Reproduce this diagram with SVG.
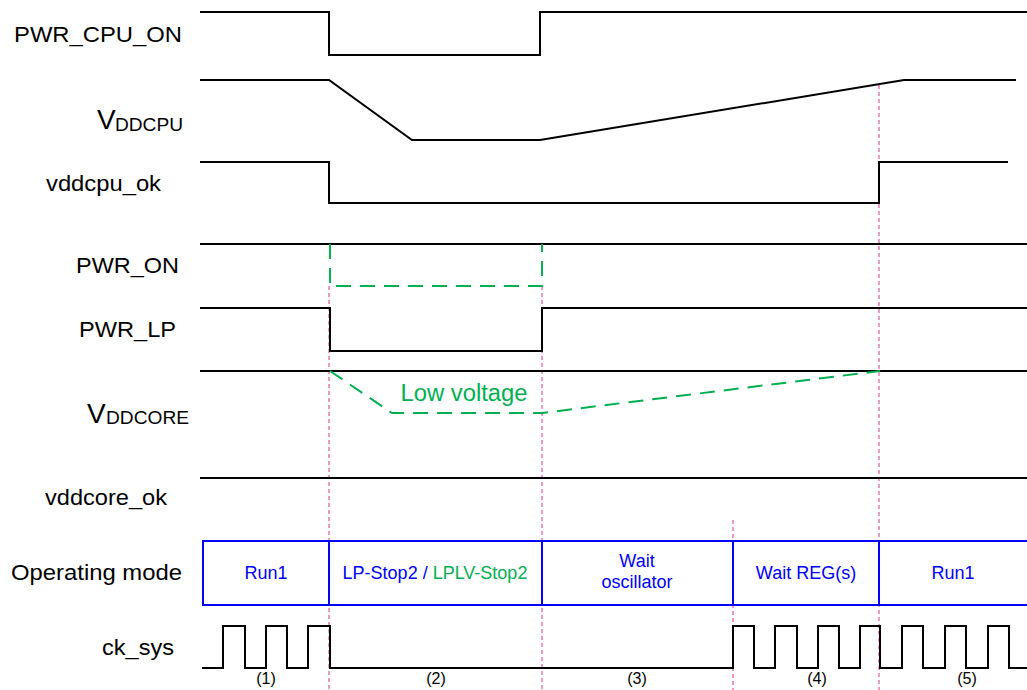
<svg xmlns="http://www.w3.org/2000/svg" width="1027" height="690" viewBox="0 0 1027 690">
<style>
.lbl{font-family:"Liberation Sans",Arial,sans-serif;font-size:22px;fill:#000}
.sub{font-family:"Liberation Sans",Arial,sans-serif;font-size:18px;fill:#000}
.big{font-family:"Liberation Sans",Arial,sans-serif;font-size:28px;fill:#000}
.mode{font-family:"Liberation Sans",Arial,sans-serif;font-size:18px;fill:#0000ff;text-anchor:middle}
.num{font-family:"Liberation Sans",Arial,sans-serif;font-size:16px;fill:#000;text-anchor:middle}
.sig{fill:none;stroke:#000;stroke-width:2;stroke-linejoin:miter}
.grn{fill:none;stroke:#00b050;stroke-width:2;stroke-dasharray:15,9}
.mag{fill:none;stroke:#e8559f;stroke-width:1.2;stroke-dasharray:4,3}
.box{fill:none;stroke:#0000ff;stroke-width:2}
</style>
<rect width="1027" height="690" fill="#fff"/>
<g id="guides">
<line class="mag" x1="329" y1="286" x2="329" y2="690"/>
<line class="mag" x1="542" y1="286" x2="542" y2="690"/>
<line class="mag" x1="733" y1="520" x2="733" y2="690"/>
<line class="mag" x1="879" y1="85" x2="879" y2="690"/>
</g>
<g id="labels">
<text class="lbl" x="14" y="42" textLength="168" lengthAdjust="spacingAndGlyphs">PWR_CPU_ON</text>
<text class="big" x="97" y="129">V</text><text class="sub" x="115" y="131" textLength="68" lengthAdjust="spacingAndGlyphs">DDCPU</text>
<text class="lbl" x="46" y="191" textLength="115" lengthAdjust="spacingAndGlyphs">vddcpu_ok</text>
<text class="lbl" x="76" y="273" textLength="103" lengthAdjust="spacingAndGlyphs">PWR_ON</text>
<text class="lbl" x="79" y="337" textLength="97" lengthAdjust="spacingAndGlyphs">PWR_LP</text>
<text class="big" x="87" y="423">V</text><text class="sub" x="106" y="424" textLength="83" lengthAdjust="spacingAndGlyphs">DDCORE</text>
<text class="lbl" x="45" y="505" textLength="122" lengthAdjust="spacingAndGlyphs">vddcore_ok</text>
<text class="lbl" x="11" y="580" textLength="171" lengthAdjust="spacingAndGlyphs">Operating mode</text>
<text class="lbl" x="102" y="655" textLength="72" lengthAdjust="spacingAndGlyphs">ck_sys</text>
</g>
<g id="connectors">
<polyline id="pwr_cpu_on" class="sig" points="200,12 329,12 329,55 540,55 540,12 1027,12"/>
<polyline id="vddcpu" class="sig" points="200,80 329,80 412,140 540,140 904,80 1016,80"/>
<polyline id="vddcpu_ok" class="sig" points="200,162 329,162 329,203 879,203 879,162 1008,162"/>
<line id="pwr_on" class="sig" x1="200" y1="244" x2="1027" y2="244"/>
<polyline id="pwr_on_lp" class="grn" points="330,244 330,286 542,286 542,244"/>
<polyline id="pwr_lp" class="sig" points="200,308 330,308 330,351 542,351 542,308 1027,308"/>
<line id="vddcore" class="sig" x1="200" y1="371" x2="1027" y2="371"/>
<polyline id="vddcore_lv" class="grn" points="330,371 392,413 542,413 880,371"/>
<line id="vddcore_ok" class="sig" x1="200" y1="478" x2="1027" y2="478"/>
<polyline id="ck_sys" class="sig" points="202,668 223,668 223,626 245,626 245,668 266,668 266,626 287,626 287,668 308,668 308,626 330,626 330,668 733,668 733,626 754,626 754,668 775,668 775,626 797,626 797,668 818,668 818,626 839,626 839,668 860,668 860,626 880,626 880,668 902,668 902,626 923,626 923,668 945,668 945,626 966,626 966,668 988,668 988,626 1009,626 1009,668 1027,668"/>
</g>
<text x="464" y="401" font-family="Liberation Sans, Arial, sans-serif" font-size="23" fill="#00b050" text-anchor="middle" textLength="127" lengthAdjust="spacingAndGlyphs">Low voltage</text>
<g id="mode-run1a"><rect class="box" x="203" y="541" width="126" height="64"/><text class="mode" x="266" y="579">Run1</text></g>
<g id="mode-stop2"><rect class="box" x="329" y="541" width="213" height="64"/><text class="mode" x="435" y="579">LP-Stop2 / <tspan fill="#00b050">LPLV-Stop2</tspan></text></g>
<g id="mode-waitosc"><rect class="box" x="542" y="541" width="191" height="64"/><text class="mode" x="637" y="567">Wait</text><text class="mode" x="637" y="588">oscillator</text></g>
<g id="mode-waitreg"><rect class="box" x="733" y="541" width="146" height="64"/><text class="mode" x="806" y="579">Wait REG(s)</text></g>
<g id="mode-run1b"><rect class="box" x="879" y="541" width="150" height="64"/><text class="mode" x="953" y="579">Run1</text></g>
<g id="phases">
<text class="num" x="266" y="684">(1)</text>
<text class="num" x="436" y="684">(2)</text>
<text class="num" x="637" y="684">(3)</text>
<text class="num" x="817" y="684">(4)</text>
<text class="num" x="967" y="684">(5)</text>
</g>
</svg>
